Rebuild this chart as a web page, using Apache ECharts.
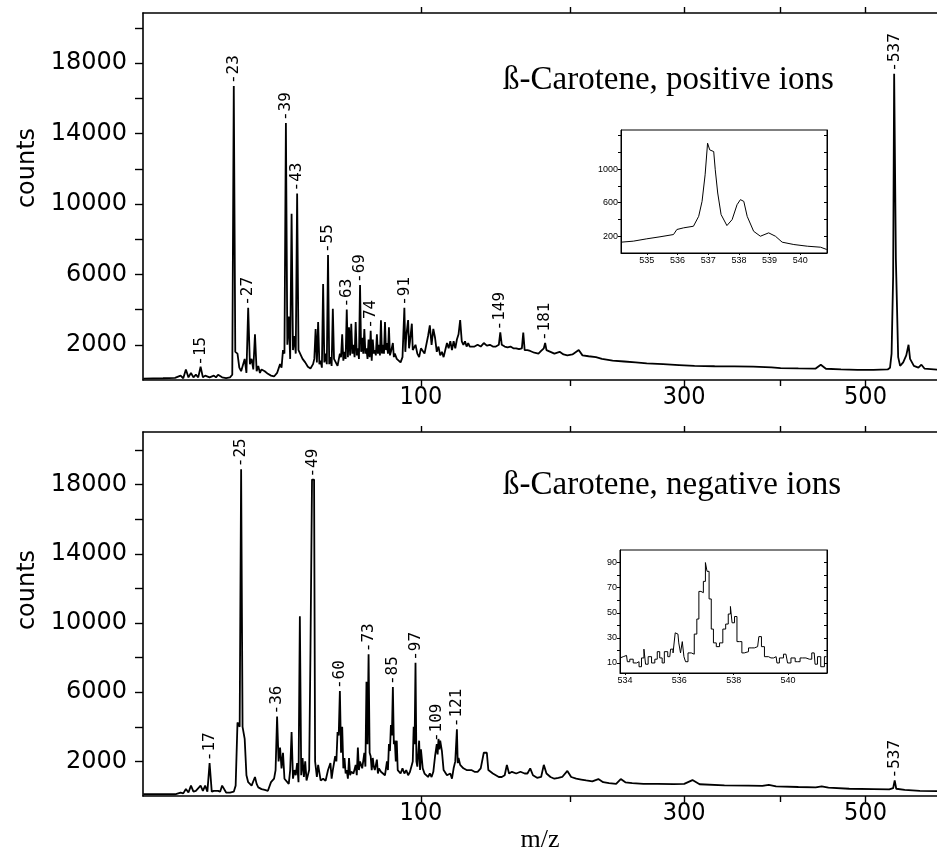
<!DOCTYPE html>
<html><head><meta charset="utf-8">
<script src="https://cdn.jsdelivr.net/npm/echarts@6/dist/echarts.min.js"></script>
<style>html,body{margin:0;padding:0;background:#fff}#c{width:937px;height:861px}</style>
</head><body><div id="c"></div>
<script>
// ---------- positive ions spectrum (m/z, counts) ----------
const posMz = [
  5.2,8,10,11,11.5,12,12.5,13,13.5,14,14.5,15,15.5,16,17,18,18.5,19,20,21,22,22.6,
  23,23.4,24,24.5,25,25.5,26,26.5,27,27.5,28,28.5,29,29.5,30,30.5,31,32,33,34,35,36,36.5,37,37.5,38,38.5,
  39,39.5,40,40.5,41,41.5,42,42.5,43,43.5,44,45,46,47,48,49,49.5,50,50.5,51,51.5,52,52.5,53,53.5,54,54.5,55,55.5,56,56.5,57,57.5,58,59,59.5,
  60,60.5,61,61.5,62,62.5,63,63.5,64,64.5,65,65.5,66,66.5,67,67.5,68,68.5,69,69.5,70,70.5,71,71.5,72,72.5,73,73.5,74,74.5,
  75,75.5,76,76.5,77,77.5,78,78.5,79,79.5,80,80.5,81,81.5,82,82.5,83,83.5,84,85,85.5,86,87,88,89,90,91,91.5,92,93,93.5,94,95,95.5,96,97,98,99,
  100,102,103,104,105,106,107,108,109,110,111,112,113,114,115,116,117,118,119,120,121,122,123,124,125,126,127,128,129,130,
  132,134,136,138,140,142,144,146,148,149,150,152,154,156,158,160,162,164,165,166,168,170,173,176,178,180,181,182,185,188,
  192,195,198,202,207,210,215,221,226,235,245,255,265,280,295,310,330,350,370,390,400,420,440,446,452,470,490,510,528,
  531,533,535,536.3,537.5,538.5,540.5,541.5,544,548,552,555,557,562,568,572,576,595
];
const posCounts = [
  80,100,120,250,100,600,150,400,150,300,150,750,150,250,150,250,150,300,150,100,150,300,
  16700,1600,1500,700,500,400,1200,400,4100,900,1200,600,2600,500,800,400,600,500,350,250,200,400,500,900,700,1700,1500,
  14600,2000,3600,1200,9450,1700,2500,1500,10600,1700,1700,1200,1000,750,650,900,1200,2900,1000,3300,900,1100,700,5450,1000,1500,900,7100,900,1300,800,4050,1200,1100,800,700,
  1500,1300,2600,1100,1600,1200,4000,1300,3000,1400,3200,1500,2000,1300,3300,1400,1800,1200,5400,1600,2400,1500,2900,1500,1800,1200,2300,1300,2800,1100,
  2300,1500,1700,1400,2600,1500,2000,1400,3400,1500,2000,1500,3300,1700,2100,1500,3000,1400,1600,2100,1300,1500,1200,1300,1000,1300,4100,1600,2500,3400,1800,2200,3200,1700,1700,2000,1500,1300,
  1800,1500,1600,2500,3100,2000,2900,2400,1600,1900,1400,1600,1300,1700,2100,1800,2200,1700,2200,1800,2300,2600,3400,2200,2000,2200,1900,2100,1900,2000,
  1900,2000,1900,2100,1950,2000,1900,1900,2000,2700,2000,1900,1850,1900,1800,1800,1750,1800,2700,1700,1700,1650,1550,1500,1650,1800,2100,1700,1600,1500,
  1600,1450,1400,1450,1700,1400,1350,1300,1200,1100,1050,1000,950,900,850,800,780,770,760,720,680,660,650,870,640,600,580,570,600,
  700,1500,5900,17400,17400,6900,6900,1300,800,1000,1400,2000,1200,800,700,870,650,580
];
const posLabelMz = [15,23,27,39,43,55,63,69,74,91,149,181,537];
const posLabelCounts = [700,16700,4100,14600,10600,7100,4000,5400,2800,4100,2700,2100,17400];

// ---------- negative ions spectrum (m/z, counts) ----------
const negMz = [
  5.2,8,10,11,11.5,12,12.5,13,13.5,14,15,15.5,16,16.5,17,17.5,18,19,19.5,20,21,22,23,23.5,
  24,24.6,25,25.4,26,26.5,27,28,29,29.5,30,31,32,33,34,35,35.5,36,36.5,37,37.5,38,38.5,39,40,40.5,41,41.5,42,42.5,43,43.5,44,44.5,45,45.5,46,46.5,47,47.5,
  48,48.6,49.4,49.8,50,50.5,51,52,53,54,55,56,56.5,57,58,58.5,59,59.5,60,60.5,61,61.5,62,62.5,63,63.5,64,64.5,65,66,
  67,67.5,68,68.5,69,70,71,71.5,72,72.5,73,73.5,74,74.5,75,75.5,76,77,77.5,78,79,80,81,82,82.5,83,83.5,84,84.5,85,
  85.5,86,86.5,87,87.5,88,89,90,91,92,93,94,95,95.5,96,96.5,97,97.5,98,98.5,99,99.5,
  100,101,102,103,104,105,106,107,108,109,109.5,110,110.5,111,112,113,114,115,116,117,118,119,120,121,121.5,122,123,124,125,126,
  127,128,130,132,134,136,138,139,140,141,142,144,146,148,150,152,153.5,155,157,160,163,166,168,170,172,175,178,180,182,185,
  188,191,194,198,201,205,209,213,218,223,227,232,238,242,246,252,262,275,290,300,308,315,340,365,380,387,395,420,440,447,
  455,480,510,530,535,537,539,550,570,595
];
const negCounts = [
  100,100,100,200,150,400,200,600,250,300,600,300,600,250,1900,250,300,300,250,600,200,200,250,600,
  4250,4000,18900,4000,3300,1200,800,600,1100,700,500,400,350,300,800,1000,1500,4600,2000,2800,1600,2500,1000,900,700,1500,3700,1000,1500,1200,1900,800,10400,1200,2200,1100,2000,900,1200,1500,
  8400,18300,18300,2000,2000,1100,1800,900,1000,880,1500,1900,1000,1500,2300,2000,3700,3500,6070,2500,4000,1600,2200,1300,1500,1000,2200,1200,1400,1300,
  1800,1200,2800,1500,2000,1600,2500,1700,6600,3000,8200,2500,2300,1500,2200,1700,1500,2100,1300,1600,1400,1300,1200,2000,1500,3000,2600,4100,3500,6300,
  3000,3200,2000,3200,1500,1600,1300,1600,1300,1500,1200,1400,1500,2000,4000,3000,7700,2000,1700,1600,3200,1500,
  2700,1600,1300,1200,1100,1300,1100,1400,2300,3000,2400,3300,2700,3200,2600,1500,1400,1200,1100,1300,1000,1600,2000,3860,1900,2200,1800,1750,1600,1500,
  1500,1400,1500,1400,1400,1600,2500,2400,2500,1500,1600,1300,1200,1100,1100,1200,1800,1300,1400,1300,1400,1300,1300,1600,1200,1050,1100,1800,1300,1100,
  1000,1050,1100,1450,1100,1000,950,900,850,980,800,750,700,980,790,750,700,700,690,700,920,680,620,600,580,650,560,520,500,560,
  480,420,400,380,450,900,420,350,300,280
];
const negLabelMz = [17,25,36,49,60,73,85,97,109,121,537];
const negLabelCounts = [1900,18900,4600,18300,6070,8200,6300,7700,3000,3860,900];

// ---------- insets (m/z, counts) ----------
const posInsetMz = [534.16,534.56,535.0,535.43,535.87,535.98,536.2,536.52,536.69,536.8,536.9,536.98,537.05,537.18,537.23,537.31,537.42,537.61,537.78,537.94,538.05,538.16,538.27,538.48,538.70,538.97,539.19,539.41,539.79,540.23,540.66,540.86];
const posInsetCounts = [129,141,169,193,220,280,300,319,437,615,932,1309,1229,1209,992,715,458,327,398,576,636,615,437,259,200,240,200,129,101,81,69,42];
const negInsetMz = [533.82,533.94,534.06,534.12,534.24,534.37,534.49,534.55,534.67,534.73,534.79,534.92,535.04,535.16,535.22,535.34,535.40,535.50,535.65,535.71,535.83,535.87,535.95,536.01,536.08,536.14,536.20,536.26,536.38,536.50,536.60,536.69,536.75,536.84,536.93,536.99,537.05,537.14,537.21,537.30,537.42,537.54,537.66,537.75,537.85,537.91,537.97,538.09,538.15,538.27,538.33,538.45,538.64,538.88,538.97,539.07,539.19,539.37,539.56,539.62,539.74,539.92,540.04,540.17,540.35,540.53,540.78,540.96,541.02,541.14,541.26,541.41];
const negInsetCounts = [14,15,16,11,13,10,11,7,14,21,9,15,10,13,19,14,10,19,15,21,18,34,33,26,18,27,15,11,18,17,33,45,67,66,75,90,83,61,37,26,23,26,37,41,49,55,42,47,27,27,18,19,22,23,31,23,15,14,15,10,14,17,10,14,11,14,13,18,9,15,7,15];

// ---------- axis ticks / labels ----------
const mzRange = [5.16, 592.9];
const xTickMz = [100,200,300,400,500];
const xLabelMz = [100,300,500];
const yTickCounts = [2000,4000,6000,8000,10000,12000,14000,16000,18000,20000];
const yLabelCounts = [2000,6000,10000,14000,18000];
const posInsetXLabels = [535,536,537,538,539,540];
const posInsetYLabels = [200,600,1000];
const posInsetYTicks = [200,400,600,800,1000,1200,1400];
const negInsetXLabels = [534,536,538,540];
const negInsetYLabels = [10,30,50,70,90];
const negInsetYTicks = [10,20,30,40,50,60,70,80,90];
const titles = ['ß-Carotene, positive ions', 'ß-Carotene, negative ions'];

// ---------- build ----------
const toXY = (mz, c) => mz.map((m, i) => [Math.sqrt(m), c[i]]);
const toLab = (mz, c) => mz.map((m, i) => [Math.sqrt(m), c[i], m]);
const xMin = Math.sqrt(mzRange[0]), xMax = Math.sqrt(mzRange[1]);
const BLK = '#000';

function mainX(gi, pos, labels) {
  return {
    type: 'value', gridIndex: gi, position: pos, min: xMin, max: xMax,
    axisLine: { show: true, onZero: false, lineStyle: { color: BLK, width: 1.6 } },
    axisTick: { show: true, inside: false, length: 6, customValues: xTickMz.map(Math.sqrt), lineStyle: { color: BLK, width: 1.4 } },
    axisLabel: labels ? { show: true, customValues: xLabelMz.map(Math.sqrt), formatter: v => String(Math.round(v * v)),
      color: BLK, fontFamily: 'Liberation Sans Narrow, DejaVu Sans Condensed, Liberation Sans', fontSize: 25, margin: 5 } : { show: false },
    splitLine: { show: false }
  };
}
function mainY(gi, max) {
  return {
    type: 'value', gridIndex: gi, min: 0, max: max,
    axisLine: { show: true, lineStyle: { color: BLK, width: 1.6 } },
    axisTick: { show: true, inside: false, length: 8, customValues: yTickCounts, lineStyle: { color: BLK, width: 1.4 } },
    axisLabel: { show: true, customValues: yLabelCounts, formatter: v => String(v), color: BLK,
      fontFamily: 'DejaVu Sans', fontSize: 24, margin: 16 },
    splitLine: { show: false }
  };
}
function insetX(gi, min, max, labels) {
  return {
    type: 'value', gridIndex: gi, min: min, max: max,
    axisLine: { show: true, onZero: false, lineStyle: { color: BLK, width: 1 } },
    axisTick: { show: true, inside: false, length: 2, customValues: labels, lineStyle: { color: BLK, width: 1 } },
    axisLabel: { show: true, customValues: labels, formatter: v => String(v), color: BLK,
      fontFamily: 'Liberation Sans', fontSize: 9, margin: 3 },
    splitLine: { show: false }
  };
}
function insetY(gi, min, max, labels, ticks, pos) {
  const right = pos === 'right';
  return {
    type: 'value', gridIndex: gi, min: min, max: max, position: pos,
    axisLine: { show: true, lineStyle: { color: BLK, width: 1 } },
    axisTick: { show: true, inside: right, length: 3, customValues: ticks, lineStyle: { color: BLK, width: 1 } },
    axisLabel: right ? { show: false } : { show: true, customValues: labels, formatter: v => String(v), color: BLK,
      fontFamily: 'Liberation Sans', fontSize: 9, margin: 3 },
    splitLine: { show: false }
  };
}
function spectrum(xi, yi, data, w, step) {
  return { type: 'line', xAxisIndex: xi, yAxisIndex: yi, data: data, showSymbol: false, symbol: 'none',
    step: step || false, lineStyle: { color: BLK, width: w }, silent: true, z: 3 };
}
function peakLabels(xi, yi, data) {
  return { type: 'scatter', xAxisIndex: xi, yAxisIndex: yi, data: data, symbolSize: 2,
    itemStyle: { color: 'rgba(0,0,0,0)' }, silent: true, z: 5,
    label: { show: true, position: 'top', distance: 1, rotate: 90, align: 'left', verticalAlign: 'middle', opacity: 1,
      formatter: p => '-' + p.value[2], color: BLK, fontFamily: 'DejaVu Sans Mono', fontSize: 16 },
    labelLayout: { hideOverlap: false } };
}

const option = {
  animation: false,
  backgroundColor: '#fff',
  grid: [
    { left: 143, top: 13, width: 797, height: 367, show: false },
    { left: 143, top: 432, width: 797, height: 364, show: false },
    { left: 621, top: 130, width: 206, height: 123, show: true, borderColor: BLK, borderWidth: 1, backgroundColor: '#fff' },
    { left: 620, top: 550, width: 207, height: 123, show: true, borderColor: BLK, borderWidth: 1, backgroundColor: '#fff' }
  ],
  xAxis: [
    mainX(0, 'bottom', true), mainX(0, 'top', false),
    mainX(1, 'bottom', true), mainX(1, 'top', false),
    insetX(2, 534.16, 540.87, posInsetXLabels),
    insetX(3, 533.82, 541.43, negInsetXLabels)
  ],
  yAxis: [
    mainY(0, 20850), mainY(1, 21050),
    insetY(2, 0, 1466, posInsetYLabels, posInsetYTicks, 'left'),
    insetY(2, 0, 1466, posInsetYLabels, posInsetYTicks, 'right'),
    insetY(3, 2, 100, negInsetYLabels, negInsetYTicks, 'left'),
    insetY(3, 2, 100, negInsetYLabels, negInsetYTicks, 'right')
  ],
  series: [
    spectrum(0, 0, toXY(posMz, posCounts), 1.8),
    peakLabels(0, 0, toLab(posLabelMz, posLabelCounts)),
    spectrum(2, 1, toXY(negMz, negCounts), 1.8),
    peakLabels(2, 1, toLab(negLabelMz, negLabelCounts)),
    { type: 'line', xAxisIndex: 4, yAxisIndex: 2, data: posInsetMz.map((m, i) => [m, posInsetCounts[i]]),
      showSymbol: false, symbol: 'none', lineStyle: { color: BLK, width: 1 }, silent: true },
    { type: 'line', xAxisIndex: 5, yAxisIndex: 4, step: 'middle', data: negInsetMz.map((m, i) => [m, negInsetCounts[i]]),
      showSymbol: false, symbol: 'none', lineStyle: { color: BLK, width: 1 }, silent: true }
  ],
  graphic: [
    { type: 'text', x: 503, y: 80, style: { text: titles[0], fill: BLK, font: '33px "Liberation Serif"', align: 'left', verticalAlign: 'middle' } },
    { type: 'text', x: 503, y: 485, style: { text: titles[1], fill: BLK, font: '33px "Liberation Serif"', align: 'left', verticalAlign: 'middle' } },
    { type: 'text', x: 28, y: 168, rotation: Math.PI / 2, style: { text: 'counts', fill: BLK, font: '24px "DejaVu Sans"', align: 'center', verticalAlign: 'middle' } },
    { type: 'text', x: 28, y: 590, rotation: Math.PI / 2, style: { text: 'counts', fill: BLK, font: '24px "DejaVu Sans"', align: 'center', verticalAlign: 'middle' } },
    { type: 'text', x: 540, y: 840, style: { text: 'm/z', fill: BLK, font: '26px "Liberation Serif"', align: 'center', verticalAlign: 'middle' } }
  ]
};
const chart = echarts.init(document.getElementById('c'));
chart.setOption(option);
</script>
</body></html>
